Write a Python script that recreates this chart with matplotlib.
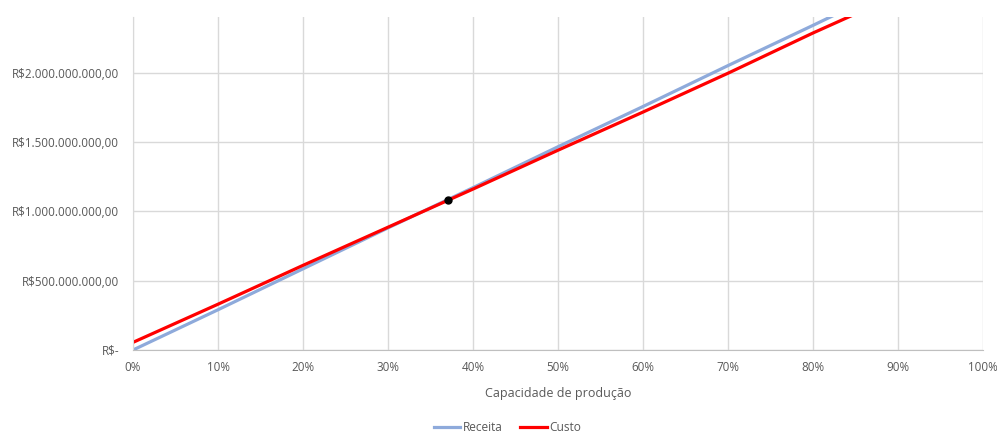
import matplotlib.pyplot as plt
from matplotlib.ticker import FuncFormatter, PercentFormatter
from matplotlib.lines import Line2D

# capacidade de produção (fração) e valores em R$
capacidade = [0.0, 0.1, 0.2, 0.3, 0.4, 0.5, 0.6, 0.7, 0.8, 0.9, 1.0]
receita = [0.0, 0.29e9, 0.585e9, 0.88e9, 1.17e9, 1.465e9, 1.755e9, 2.05e9, 2.34e9, 2.635e9, 2.93e9]
custo = [0.055e9, 0.33e9, 0.61e9, 0.885e9, 1.16e9, 1.44e9, 1.715e9, 1.995e9, 2.285e9, 2.56e9, 2.84e9]
ponto_equilibrio = (0.37, 1.083e9)

y_ticks = [0, 0.5e9, 1.0e9, 1.5e9, 2.0e9]


def fmt_reais(v, pos):
    if v == 0:
        return 'R$-'
    s = f'{v:,.2f}'.replace(',', 'X').replace('.', ',').replace('X', '.')
    return 'R$' + s


plt.rcParams['font.family'] = ['Open Sans', 'DejaVu Sans']
cinza = '#595959'

fig = plt.figure(figsize=(9.97, 4.33), dpi=100)
ax = fig.add_axes([0.1334, 0.1917, 0.8526, 0.769])

ax.plot(capacidade, receita, color='#8eaadb', lw=2.3, label='Receita', solid_capstyle='butt')
ax.plot(capacidade, custo, color='#ff0000', lw=2.3, label='Custo', solid_capstyle='butt')
ax.plot(*ponto_equilibrio, 'o', color='black', ms=5, zorder=5)

ax.set_xlim(0, 1)
ax.set_ylim(0, 2.4e9)
ax.set_xticks([i / 10 for i in range(11)])
ax.xaxis.set_major_formatter(PercentFormatter(1.0, decimals=0))
ax.set_yticks(y_ticks)
ax.yaxis.set_major_formatter(FuncFormatter(fmt_reais))

ax.grid(True, color='#d9d9d9', lw=1)
ax.set_axisbelow(True)
for s in ['top', 'right']:
    ax.spines[s].set_visible(False)
ax.spines['left'].set_color('#d9d9d9')
ax.spines['bottom'].set_color('#bfbfbf')
ax.tick_params(length=0, labelsize=8.4, colors=cinza, pad=10)
ax.tick_params(axis='x', pad=8)

ax.set_xlabel('Capacidade de produção', fontsize=9, color=cinza, labelpad=9)

handles = [Line2D([], [], color='#8eaadb', lw=2.3), Line2D([], [], color='#ff0000', lw=2.3)]
fig.legend(handles, ['Receita', 'Custo'], loc='center', bbox_to_anchor=(0.509, 0.013),
           ncol=2, frameon=False, fontsize=8.6, labelcolor=cinza,
           handlelength=2.2, handletextpad=0.2, columnspacing=1.5)

fig.savefig('out.png', dpi=100)
